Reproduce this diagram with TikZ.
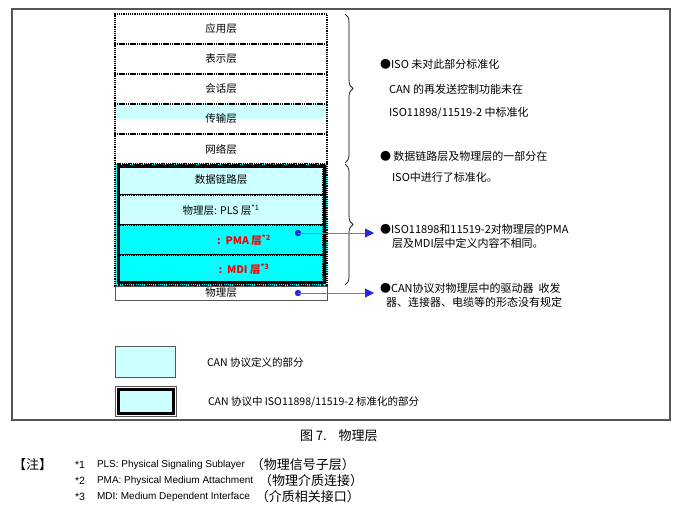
\documentclass[tikz,border=0pt]{standalone}
\usepackage{fontspec}
\setmainfont{Noto Sans CJK SC}
\newfontfamily\lat{Liberation Sans}
\definecolor{lcyan}{RGB}{204,255,255}
\definecolor{mycyan}{RGB}{0,255,255}
\definecolor{myblue}{RGB}{40,40,210}
\definecolor{linkblue}{RGB}{110,110,230}
\definecolor{framegray}{RGB}{85,85,85}
\usetikzlibrary{positioning,arrows.meta,decorations.pathreplacing}

\begin{document}
\begin{tikzpicture}[x=1pt,y=-1pt,
    every node/.style={inner sep=0pt,outer sep=0pt},
    layer/.style={draw,densely dotted,line width=1.2pt,minimum width=212pt,minimum height=30pt,font=\fontsize{10.5}{12}\selectfont},
    sublayer/.style={draw,densely dotted,line width=1.2pt,minimum width=204pt,minimum height=30pt,font=\fontsize{10.5}{12}\selectfont},
    redtext/.style={red,font=\fontsize{10.5}{12}\selectfont\bfseries},
    note/.style={anchor=west,font=\fontsize{11}{13}\selectfont},
    keytext/.style={anchor=west,font=\fontsize{10.5}{12}\selectfont},
    foot/.style={anchor=west,font=\fontsize{13}{15}\selectfont},
    pointer/.style={linkblue,line width=1pt,-{Triangle[length=9pt,width=9pt,color=myblue]}},
    bracestyle/.style={decorate,decoration={brace,amplitude=8pt},line width=0.7pt}
    ]

    \useasboundingbox (0,0) rectangle (679,514);
    \draw[framegray,line width=1.2pt] (12,9) rectangle (670,420);

    % upper layers
    \fill[lcyan] (115,104) rectangle (327,119);
    \node[layer] (l7) at (221,29) {应用层};
    \node[layer,below=0pt of l7] (l6) {表示层};
    \node[layer,below=0pt of l6] (l5) {会话层};
    \node[layer,below=0pt of l5] (l4) {传输层};
    \node[layer,below=0pt of l4] (l3) {网络层};

    % the CAN part
    \fill[mycyan] (115,164) rectangle (327,286);
    \draw[densely dotted,line width=1.2pt] (115,164) rectangle (327,286);
    \node[sublayer,fill=lcyan] (dl) at (221,180) {数据链路层};
    \node[sublayer,fill=lcyan,below=0pt of dl] (pls) {物理层: PLS\ 层\textsuperscript{*1}};
    \node[sublayer,fill=mycyan,below=0pt of pls] (pma) {};
    \node[sublayer,fill=mycyan,below=0pt of pma] (mdi) {};
    \node[redtext] (pmat) at (244,240) {:\ \ PMA 层\textsuperscript{*2}};
    \node[redtext] (mdit) at (244,269) {:\ \ MDI\ 层\textsuperscript{*3}};
    \draw[line width=3pt] (118,166) rectangle (324,282);
    \node[draw=framegray,line width=0.8pt,minimum width=212pt,minimum height=14pt,
      font=\fontsize{10.5}{12}\selectfont] (phy) at (221,293) {物理层};

    % braces
    \draw[bracestyle] (345,14) -- (345,163);
    \draw[bracestyle] (345,164) -- (345,285);

    % the notes on the right
    \node[note] (n1a) at (380,64) {●ISO 未对此部分标准化};
    \node[note] (n1b) at (389,89) {CAN 的再发送控制功能未在};
    \node[note] (n1c) at (389,113) {ISO11898/11519-2 中标准化};
    \node[note] (n2a) at (380,156) {● 数据链路层及物理层的一部分在};
    \node[note] (n2b) at (392,177) {ISO中进行了标准化。};
    \node[note] (n3a) at (380,229) {●ISO11898和11519-2对物理层的PMA};
    \node[note] (n3b) at (392,243) {层及MDI层中定义内容不相同。};
    \node[note] (n4a) at (380,288) {●CAN协议对物理层中的驱动器\ \ 收发};
    \node[note] (n4b) at (386,302) {器、连接器、电缆等的形态没有规定};

    % the pointers
    \coordinate (d1) at (298,233);
    \coordinate (t1) at (374,233);
    \coordinate (d2) at (298,293);
    \coordinate (t2) at (374,293);
    \fill[myblue] (d1) circle (3.2pt);
    \fill[myblue] (d2) circle (3.2pt);
    \draw[pointer] (d1) -- (t1);
    \draw[pointer] (d2) -- (t2);

    % key
    \node[draw=framegray,line width=0.8pt,fill=lcyan,minimum width=60pt,minimum height=31pt] (k1) at (145.5,361.5) {};
    \node[draw=black,line width=3pt,fill=lcyan,minimum width=55pt,minimum height=24pt] (k2) at (145.5,401) {};
    \draw[framegray,line width=0.8pt] ([shift={(-3pt,-3pt)}]k2.south west) rectangle ([shift={(3pt,3pt)}]k2.north east);
    \node[keytext] (k1t) at (207,363) {CAN 协议定义的部分};
    \node[keytext] (k2t) at (208,402) {CAN 协议中 ISO11898/11519-2 标准化的部分};

    % caption and footnotes
    \node[anchor=west,font=\fontsize{13}{15}\selectfont] (cap) at (300,436) {图 7.\hspace{12pt}物理层};
    \node[foot] (zhu) at (13,465) {【注】};
    \node[foot] (s1) at (75,465) {\lat\fontsize{10.5}{12}\selectfont *1};
    \node[foot] (s2) at (75,481) {\lat\fontsize{10.5}{12}\selectfont *2};
    \node[foot] (s3) at (75,497) {\lat\fontsize{10.5}{12}\selectfont *3};
    \node[foot] (e1) at (97,465) {\lat\fontsize{10}{12}\selectfont PLS: Physical Signaling Sublayer};
    \node[foot] (e2) at (97,481) {\lat\fontsize{10}{12}\selectfont PMA: Physical Medium Attachment};
    \node[foot] (e3) at (97,497) {\lat\fontsize{10}{12}\selectfont MDI: Medium Dependent Interface};
    \node[foot,right=6pt of e1] (c1) {（物理信号子层）};
    \node[foot,right=6pt of e2] (c2) {（物理介质连接）};
    \node[foot,right=6pt of e3] (c3) {（介质相关接口）};
\end{tikzpicture}
\end{document}
